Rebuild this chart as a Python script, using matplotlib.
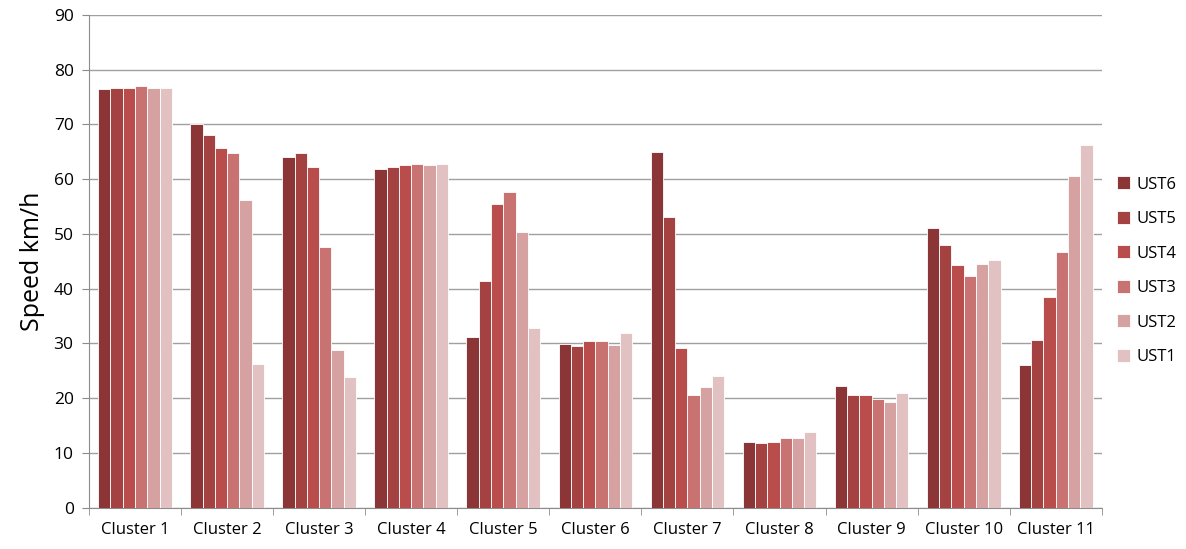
import numpy as np
import matplotlib.pyplot as plt
from matplotlib.ticker import MultipleLocator

clusters = [f'Cluster {i}' for i in range(1, 12)]
series = ['UST6', 'UST5', 'UST4', 'UST3', 'UST2', 'UST1']
colors = ['#8B3536', '#A34241', '#B84D4B', '#C87372', '#D6A1A1', '#E2C1C3']

ust6 = [76.5, 70.0, 64.0, 61.8, 31.1, 29.9, 65.0, 12.1, 22.3, 51.0, 26.0]
ust5 = [76.7, 68.0, 64.8, 62.3, 41.4, 29.5, 53.1, 11.8, 20.6, 47.9, 30.6]
ust4 = [76.7, 65.7, 62.3, 62.5, 55.4, 30.4, 29.1, 12.1, 20.6, 44.3, 38.4]
ust3 = [77.0, 64.8, 47.7, 62.8, 57.7, 30.4, 20.6, 12.8, 19.9, 42.3, 46.7]
ust2 = [76.7, 56.2, 28.9, 62.5, 50.4, 29.7, 22.1, 12.8, 19.4, 44.5, 60.6]
ust1 = [76.7, 26.3, 23.8, 62.8, 32.8, 31.9, 24.0, 13.8, 20.9, 45.2, 66.2]
values = [ust6, ust5, ust4, ust3, ust2, ust1]

plt.rcParams['font.family'] = ['Open Sans', 'DejaVu Sans']

fig = plt.figure(figsize=(11.86, 5.49), dpi=100)
ax = fig.add_axes([0.075, 0.075, 0.854, 0.898])

x = np.arange(len(clusters))
w = 0.8 / len(series)
for k, (name, vals) in enumerate(zip(series, values)):
    ax.bar(x - 0.4 + w * (k + 0.5), vals, width=w, color=colors[k],
           edgecolor='white', linewidth=0.6, label=name, zorder=3)

ax.set_xlim(-0.5, len(clusters) - 0.5)
ax.set_ylim(0, 90)
ax.yaxis.set_major_locator(MultipleLocator(10))
ax.set_xticks(x)
ax.set_xticklabels(clusters, fontsize=12)
ax.set_xticks(np.arange(-0.5, len(clusters)), minor=True)
ax.tick_params(axis='x', which='major', length=0, pad=10)
ax.tick_params(axis='x', which='minor', length=5, color='#8c8c8c', direction='out')
ax.tick_params(axis='y', length=5, color='#8c8c8c', labelsize=12.5, pad=6)
ax.grid(axis='y', color='#a0a0a0', linewidth=1.0, zorder=0)
for s in ['top', 'right']:
    ax.spines[s].set_visible(False)
for s in ['left', 'bottom']:
    ax.spines[s].set_color('#8c8c8c')
ax.set_ylabel('Speed km/h', fontsize=18, labelpad=6)

fig.legend(loc='upper left', bbox_to_anchor=(0.929, 0.706), frameon=False,
           fontsize=12, handlelength=0.8, handleheight=0.8,
           labelspacing=1.1, handletextpad=0.4)

fig.savefig('out.png', dpi=100)
